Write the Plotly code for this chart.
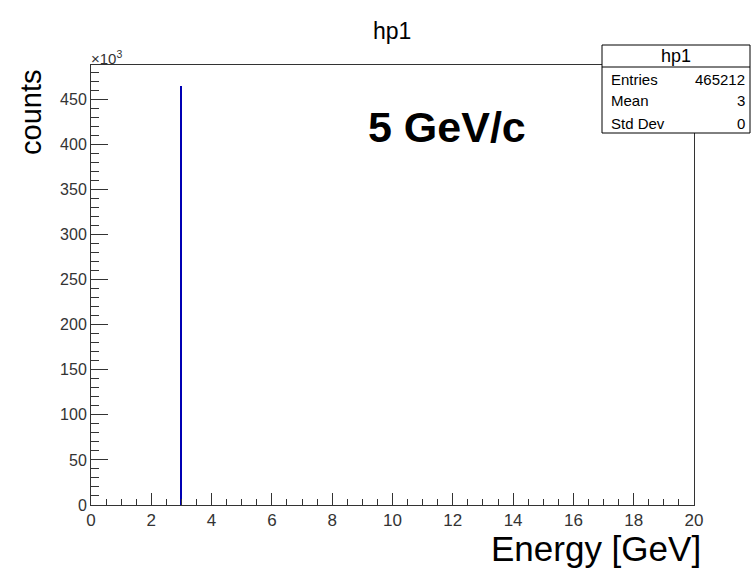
import plotly.graph_objects as go

# ---- data ----
bin_centers = [3.0]
bin_counts = [465212]
x_tick_vals = [0, 2, 4, 6, 8, 10, 12, 14, 16, 18, 20]
y_tick_vals = [0, 50000, 100000, 150000, 200000, 250000, 300000, 350000, 400000, 450000]
y_tick_text = ["0", "50", "100", "150", "200", "250", "300", "350", "400", "450"]
stat_names = ["Entries", "Mean", "Std Dev"]
stat_values = ["465212", "3", "0"]
hist_name = "hp1"

W, H = 751, 569
L, R, T, B = 91, 694, 65, 505
FONT = "Liberation Sans, Arial, sans-serif"


def px(x):
    return (x - L) / (R - L)


def py(y):
    return (B - y) / (B - T)


fig = go.Figure()
fig.add_trace(go.Bar(
    x=bin_centers, y=bin_counts, width=0.06,
    marker=dict(color="#0000b4", line=dict(width=0)),
    showlegend=False, hoverinfo="x+y",
))

fig.update_layout(
    width=W, height=H,
    margin=dict(l=L, r=W - R, t=T, b=H - B, pad=0),
    paper_bgcolor="white", plot_bgcolor="white",
    font=dict(family=FONT, color="#333333"),
    bargap=0,
)
fig.update_xaxes(
    range=[0, 20], tickvals=x_tick_vals, ticks="inside", ticklen=12, tickwidth=1,
    tickcolor="#333", showline=True, linecolor="#333", linewidth=1, mirror=True,
    showgrid=False, zeroline=False, tickfont=dict(size=17),
    minor=dict(dtick=0.5, ticks="inside", ticklen=6, tickcolor="#333", showgrid=False),
)
fig.update_yaxes(
    range=[0, 488000], tickvals=y_tick_vals, ticktext=y_tick_text, ticks="inside",
    ticklen=17, tickwidth=1, tickcolor="#333", showline=True, linecolor="#333",
    linewidth=1, mirror=True, showgrid=False, zeroline=False, tickfont=dict(size=16),
    minor=dict(dtick=10000, ticks="inside", ticklen=8, tickcolor="#333", showgrid=False),
)

ann = []
ann.append(dict(text=hist_name, x=px(392), y=py(31), xref="paper", yref="paper",
                xanchor="center", yanchor="middle", showarrow=False,
                font=dict(size=23, color="black")))
ann.append(dict(text="×10<sup>3</sup>", x=px(89), y=py(57), xref="paper", yref="paper",
                xanchor="left", yanchor="middle", showarrow=False,
                font=dict(size=15, color="#333")))
ann.append(dict(text="counts", x=px(31), y=py(113), xref="paper", yref="paper",
                xanchor="center", yanchor="middle", textangle=-90, showarrow=False,
                font=dict(size=29, color="black")))
ann.append(dict(text="Energy [GeV]", x=px(702), y=py(548), xref="paper", yref="paper",
                xanchor="right", yanchor="middle", showarrow=False, borderpad=0,
                font=dict(size=35, color="black")))
ann.append(dict(text="<b>5 GeV/c</b>", x=px(447), y=py(127), xref="paper", yref="paper",
                xanchor="center", yanchor="middle", showarrow=False,
                font=dict(size=43, color="black")))

# stats box
bx0, bx1, by0, bsep, by1 = 602, 750, 45, 67, 133
shapes = [
    dict(type="rect", xref="paper", yref="paper", x0=px(bx0), x1=px(bx1), y0=py(by1), y1=py(by0),
         line=dict(color="black", width=1), fillcolor="white", layer="above"),
    dict(type="line", xref="paper", yref="paper", x0=px(bx0), x1=px(bx1), y0=py(bsep), y1=py(bsep),
         line=dict(color="black", width=1), layer="above"),
]
ann.append(dict(text=hist_name, x=px((bx0 + bx1) / 2), y=py(56), xref="paper", yref="paper",
                xanchor="center", yanchor="middle", showarrow=False,
                font=dict(size=18, color="black")))
row_y = [79, 101, 123]
for name, val, yy in zip(stat_names, stat_values, row_y):
    ann.append(dict(text=name, x=px(bx0 + 7), y=py(yy), xref="paper", yref="paper",
                    xanchor="left", yanchor="middle", showarrow=False,
                    font=dict(size=15, color="black")))
    ann.append(dict(text=val, x=px(bx1 - 3), y=py(yy), xref="paper", yref="paper",
                    xanchor="right", yanchor="middle", showarrow=False,
                    font=dict(size=15, color="black")))

fig.update_layout(annotations=ann, shapes=shapes)
fig.write_html("out.html")
